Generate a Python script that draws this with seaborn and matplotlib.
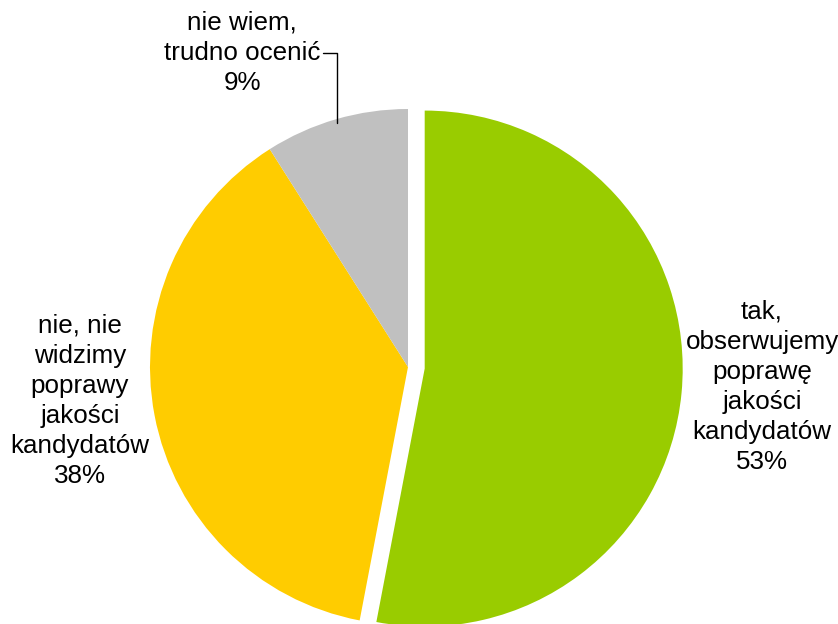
import numpy as np
import matplotlib
matplotlib.use("Agg")
import matplotlib.pyplot as plt
import seaborn as sns

# Dane wykresu
kategorie = ["tak,\nobserwujemy\npoprawę\njakości\nkandydatów",
             "nie, nie\nwidzimy\npoprawy\njakości\nkandydatów",
             "nie wiem,\ntrudno ocenić"]
wartosci = [53, 38, 9]
kolory = ["#99CC00", "#FFCC00", "#C0C0C0"]

sns.set_theme(style="white")
plt.rcParams["font.family"] = ["Liberation Sans", "DejaVu Sans"]

fig = plt.figure(figsize=(8.38, 6.24), dpi=100)
ax = fig.add_axes([0, 0, 1, 1])

srodek = (408, 257)
promien = 258
# wysunięcie w jednostkach osi (ułamek promienia)
wysuniecie = [0.065 * promien, 0, 0]

wedges, _ = ax.pie(wartosci, colors=sns.color_palette(kolory), startangle=90,
                   counterclock=False, explode=wysuniecie, center=srodek,
                   radius=promien, frame=True,
                   wedgeprops=dict(linewidth=0))
ax.set_xlim(0, 838)
ax.set_ylim(0, 624)
ax.set_aspect("equal")
ax.axis("off")

etykiety = [f"{k}\n{w}%" for k, w in zip(kategorie, wartosci)]
styl = dict(fontsize=18.7, ha="center", va="center", linespacing=1.32, color="black")

# tak - po prawej
ax.text(762, 624 - 387, etykiety[0], **styl)
# nie - po lewej
ax.text(80, 624 - 401, etykiety[1], **styl)

# nie wiem - nad wykresem, z linią odniesienia
w = wedges[2]
kat = np.deg2rad((w.theta1 + w.theta2) / 2)
punkt = (srodek[0] + 0.985 * promien * np.cos(kat), srodek[1] + 0.985 * promien * np.sin(kat))
ax.annotate(etykiety[2], xy=punkt, xytext=(242, 624 - 53),
            arrowprops=dict(arrowstyle="-", color="black", lw=1,
                            connectionstyle="angle,angleA=0,angleB=90,rad=0",
                            shrinkA=0, shrinkB=0, relpos=(1.0, 0.5)),
            **styl)

fig.savefig("out.png", dpi=100)
